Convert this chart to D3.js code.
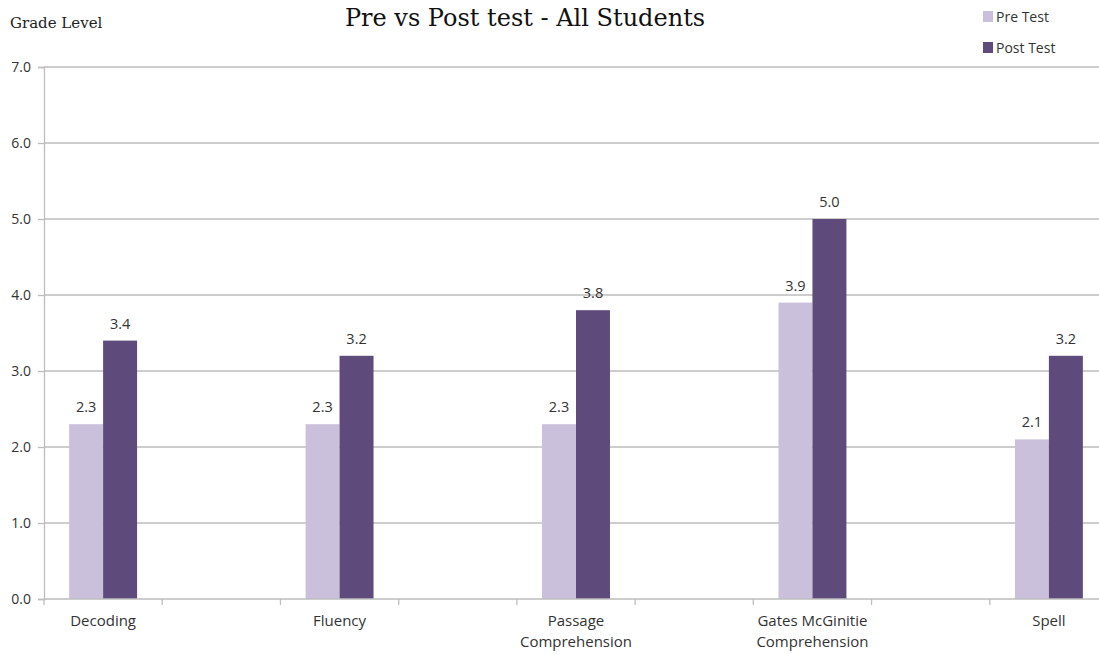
<!DOCTYPE html>
<html>
<head>
<meta charset="utf-8">
<script src="https://cdn.jsdelivr.net/npm/d3@7"></script>
<style>
  html, body { margin: 0; padding: 0; background: #fff; }
  svg { display: block; }
</style>
</head>
<body>
<svg id="chart" width="1099" height="654"></svg>
<script>
// Categories, with blank slots between them as spacers on the category axis
const categories = ["Decoding", "", "Fluency", "", "Passage\nComprehension", "", "Gates McGinitie\nComprehension", "", "Spell"];
const preTest  = [2.3, null, 2.3, null, 2.3, null, 3.9, null, 2.1];
const postTest = [3.4, null, 3.2, null, 3.8, null, 5.0, null, 3.2];
const seriesNames = ["Pre Test", "Post Test"];
const seriesColors = ["#CBC0DC", "#5E4A7B"];
const yTicks = [0, 1, 2, 3, 4, 5, 6, 7];

(function () {
  const svg = d3.select("#chart");
  const plotLeft = 44, plotRight = 1108, plotTop = 67, plotBottom = 599;
  const labelFont = "'Open Sans', 'Noto Sans', sans-serif";
  const serifFont = "'DejaVu Serif', 'Liberation Serif', serif";
  const textColor = "#333";

  const x = d3.scaleBand().domain(d3.range(categories.length)).range([plotLeft, plotRight]).paddingInner(0).paddingOuter(0);
  const y = d3.scaleLinear().domain([0, 7]).range([plotBottom, plotTop]);

  // Horizontal gridlines
  svg.append("g").selectAll("line").data(yTicks.filter(d => d > 0)).join("line")
    .attr("x1", plotLeft).attr("x2", plotRight)
    .attr("y1", d => y(d)).attr("y2", d => y(d))
    .attr("stroke", "#BDBDBD").attr("stroke-width", 1.3);

  // Y axis
  const yAxis = svg.append("g").attr("transform", `translate(${plotLeft},0)`)
    .call(d3.axisLeft(y).tickValues(yTicks).tickFormat(d3.format(".1f")).tickSize(6).tickPadding(7));
  yAxis.select(".domain").attr("stroke", "#BDBDBD").attr("stroke-width", 1.3);
  yAxis.selectAll(".tick line").attr("stroke", "#BDBDBD").attr("stroke-width", 1.3);
  yAxis.selectAll(".tick text").attr("font-family", labelFont).attr("font-size", 14).attr("fill", textColor);

  // Bars and value labels
  const inner = d3.scaleBand().domain([0, 1]).range([0, x.bandwidth()]).paddingInner(0).paddingOuter(0.74);
  const groups = svg.append("g");
  [preTest, postTest].forEach((vals, si) => {
    const rows = vals.map((v, i) => ({ v, i })).filter(d => d.v !== null);
    groups.append("g").selectAll("rect").data(rows).join("rect")
      .attr("x", d => x(d.i) + inner(si))
      .attr("width", inner.bandwidth())
      .attr("y", d => y(d.v))
      .attr("height", d => y(0) - y(d.v))
      .attr("fill", seriesColors[si]);
    groups.append("g").selectAll("text").data(rows).join("text")
      .attr("x", d => x(d.i) + inner(si) + inner.bandwidth() / 2)
      .attr("y", d => y(d.v) - 12)
      .attr("text-anchor", "middle")
      .attr("font-family", labelFont).attr("font-size", 14.5).attr("fill", textColor)
      .text(d => d3.format(".1f")(d.v));
  });

  // X axis
  const xAxisG = svg.append("g");
  xAxisG.append("line").attr("x1", plotLeft).attr("x2", plotRight).attr("y1", plotBottom).attr("y2", plotBottom)
    .attr("stroke", "#BDBDBD").attr("stroke-width", 1.3);
  xAxisG.selectAll("line.tick").data(d3.range(categories.length + 1)).join("line")
    .attr("class", "tick")
    .attr("x1", i => plotLeft + i * x.step()).attr("x2", i => plotLeft + i * x.step())
    .attr("y1", plotBottom).attr("y2", plotBottom + 6)
    .attr("stroke", "#BDBDBD").attr("stroke-width", 1.3);
  categories.forEach((c, i) => {
    if (!c) return;
    const t = xAxisG.append("text")
      .attr("text-anchor", "middle")
      .attr("font-family", labelFont).attr("font-size", 15).attr("fill", textColor);
    c.split("\n").forEach((line, k) => {
      t.append("tspan").attr("x", x(i) + x.bandwidth() / 2).attr("y", 626 + k * 21).text(line);
    });
  });

  // Title and axis caption
  svg.append("text").attr("x", 525).attr("y", 26).attr("text-anchor", "middle")
    .attr("font-family", serifFont).attr("font-size", 24).attr("fill", "#111")
    .text("Pre vs Post test - All Students");
  svg.append("text").attr("x", 10).attr("y", 28)
    .attr("font-family", serifFont).attr("font-size", 15).attr("fill", "#222")
    .text("Grade Level");

  // Legend
  const legend = svg.append("g");
  seriesNames.forEach((name, i) => {
    const ly = 17 + i * 31;
    legend.append("rect").attr("x", 983).attr("y", ly - 6).attr("width", 10).attr("height", 11)
      .attr("fill", seriesColors[i]);
    legend.append("text").attr("x", 996).attr("y", ly + 5)
      .attr("font-family", labelFont).attr("font-size", 14).attr("fill", textColor)
      .text(name);
  });
})();
</script>
</body>
</html>
